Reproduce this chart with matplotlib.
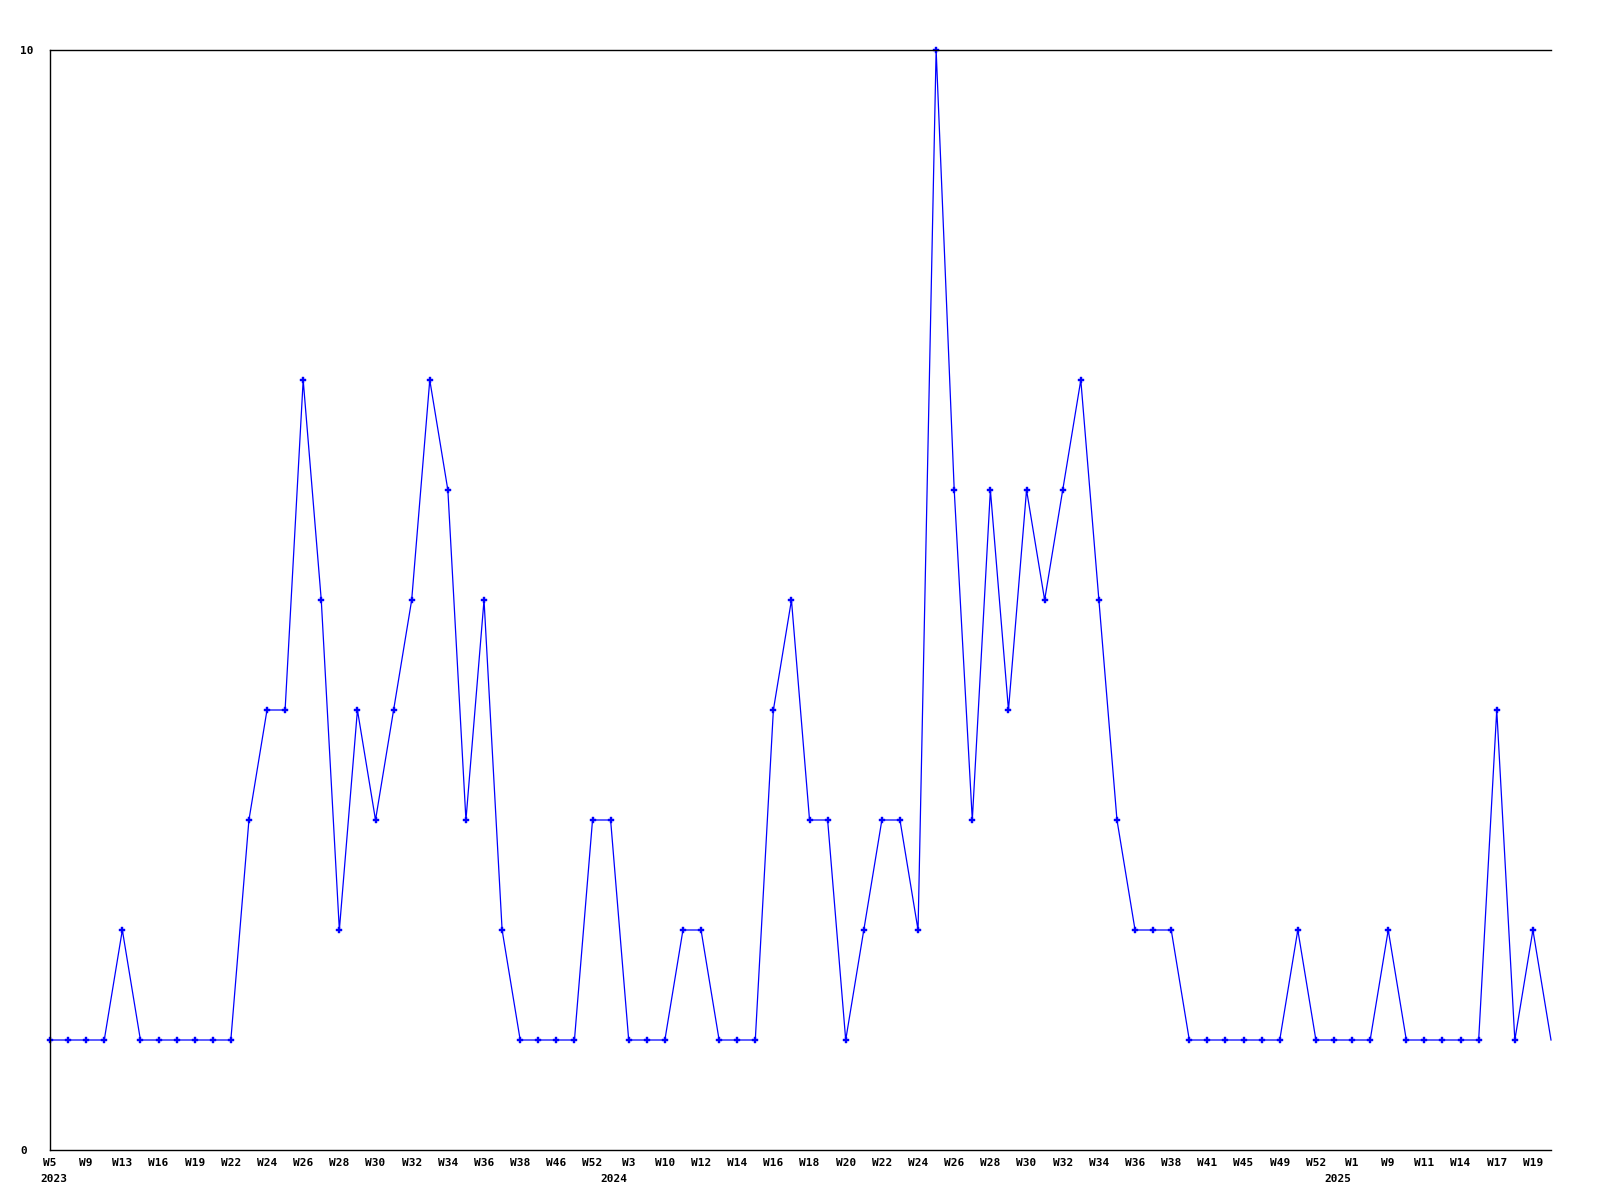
import matplotlib
matplotlib.use("Agg")
import matplotlib.pyplot as plt
import matplotlib.transforms as mtransforms

values = [1, 1, 1, 1, 2, 1, 1, 1, 1, 1,
          1, 3, 4, 4, 7, 5, 2, 4, 3, 4,
          5, 7, 6, 3, 5, 2, 1, 1, 1, 1,
          3, 3, 1, 1, 1, 2, 2, 1, 1, 1,
          4, 5, 3, 3, 1, 2, 3, 3, 2, 10,
          6, 3, 6, 4, 6, 5, 6, 7, 5, 3,
          2, 2, 2, 1, 1, 1, 1, 1, 1, 2,
          1, 1, 1, 1, 2, 1, 1, 1, 1, 1,
          4, 1, 2, 1]

week_labels = ["W5", "W9", "W13", "W16", "W19", "W22", "W24", "W26", "W28", "W30",
               "W32", "W34", "W36", "W38", "W46", "W52", "W3", "W10", "W12", "W14",
               "W16", "W18", "W20", "W22", "W24", "W26", "W28", "W30", "W32", "W34",
               "W36", "W38", "W41", "W45", "W49", "W52", "W1", "W9", "W11", "W14",
               "W17", "W19"]

years = ["2023", "2024", "2025"]
year_positions = [0, 31, 71]

fig = plt.figure(figsize=(16, 12), dpi=100)
ax = fig.add_axes([50/1600, 1 - 1150/1200, 1501/1600, 1100/1200])

x = list(range(len(values)))
ax.plot(x, values, color="#0000ff", linewidth=0.9, marker="P", markersize=4,
        markerfacecolor="#0000ff", markeredgecolor="#0000ff", markeredgewidth=0.3,
        markevery=list(range(len(values) - 1)), clip_on=False)

ax.set_xlim(0, len(values) - 1)
ax.set_ylim(0, 10)

font = dict(family="DejaVu Sans Mono", weight="bold", size=8)

ax.set_xticks(x[::2][:len(week_labels)])
ax.set_xticklabels(week_labels, **font)
ax.set_yticks([0, 10])
ax.set_yticklabels(["0", "10"], **font)
for lbl in ax.get_yticklabels():
    lbl.set_horizontalalignment("left")
ax.tick_params(axis="y", length=0, pad=21.6)
ax.tick_params(axis="x", length=0, pad=6)

trans = mtransforms.blended_transform_factory(ax.transData, ax.transAxes)
for yr, pos in zip(years, year_positions):
    ax.text(pos + 0.2, -0.0215, yr, transform=trans, ha="center", va="top", **font)

for side in ["left", "bottom", "top"]:
    ax.spines[side].set_color("black")
    ax.spines[side].set_linewidth(1.0)
ax.spines["right"].set_visible(False)

fig.savefig("out.png", dpi=100, facecolor="white")
